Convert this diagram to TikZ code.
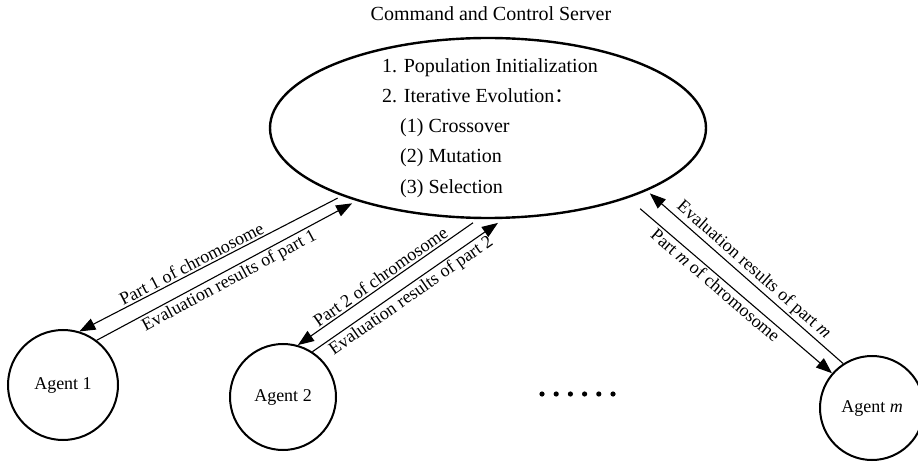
\documentclass[tikz,border=0pt]{standalone}
\usepackage{fontspec}
\setmainfont{Liberation Serif}
\newfontfamily\cjk{Noto Sans CJK SC}
\usetikzlibrary{shapes.geometric,arrows.meta,positioning}

\begin{document}
\begin{tikzpicture}[x=1pt,y=-1pt,>={Triangle[length=16pt,width=12pt]}]
    \tikzstyle{agent}=[circle,draw,line width=2pt,inner sep=0pt,font=\fontsize{18}{20}\selectfont]
    \tikzstyle{server}=[ellipse,draw,line width=2.4pt,inner sep=0pt,outer sep=5pt,
        minimum width=436pt,minimum height=180pt]
    \tikzstyle{step text}=[anchor=base west,inner sep=0pt,font=\fontsize{20}{22}\selectfont]
    \tikzstyle{link}=[->,line width=1.1pt]
    \tikzstyle{msg}=[sloped,inner sep=2pt,font=\fontsize{18}{20}\selectfont]

    \useasboundingbox (0,0) rectangle (918,462);

    % Draw the server and its task list
    \node[server] (S) at (488,128) {};
    \node[anchor=base,inner sep=0pt,font=\fontsize{20}{22}\selectfont] (title) at (491,21)
        {Command and Control Server};
    \node[step text] (T-1) at (382,73) {1. Population Initialization};
    \node[step text] (T-2) at (382,103) {2. Iterative Evolution{\cjk ：}};
    \foreach \name / \y / \txt in {1/133/Crossover,2/163/Mutation,3/194/Selection}
        \node[step text] (E-\name) at (400,\y) {(\name) \txt};

    % Draw the agents
    \foreach \name / \x / \y / \d / \lbl in {1/63/385/110/1,2/283/397/106/2,m/872/408/104/{\textit{m}}}
        \node[agent,minimum size=\d pt] (A-\name) at (\x,\y) {Agent \lbl};

    % Chromosome parts go down, results come back up
    \path (S.205) edge[link] node[msg,above,pos=0.55] {Part 1 of chromosome} (A-1.73);
    \path (A-1.53) edge[link] node[msg,below] {Evaluation results of part 1} (S.209);

    \path (S.261) edge[link] node[msg,above] {Part 2 of chromosome} (A-2.74);
    \path (A-2.57) edge[link] node[msg,below] {Evaluation results of part 2} (S.276);

    \path (A-m.123) edge[link] node[msg,above] {Evaluation results of part \textit{m}} (S.338);
    \path (S.333) edge[link,shorten <=12pt] node[msg,below,pos=0.45] {Part \textit{m} of chromosome} (A-m.139);

    % The other agents
    \foreach \i in {0,...,5}
        \fill (542+14.2*\i,394) circle (2.6pt);
\end{tikzpicture}
\end{document}
